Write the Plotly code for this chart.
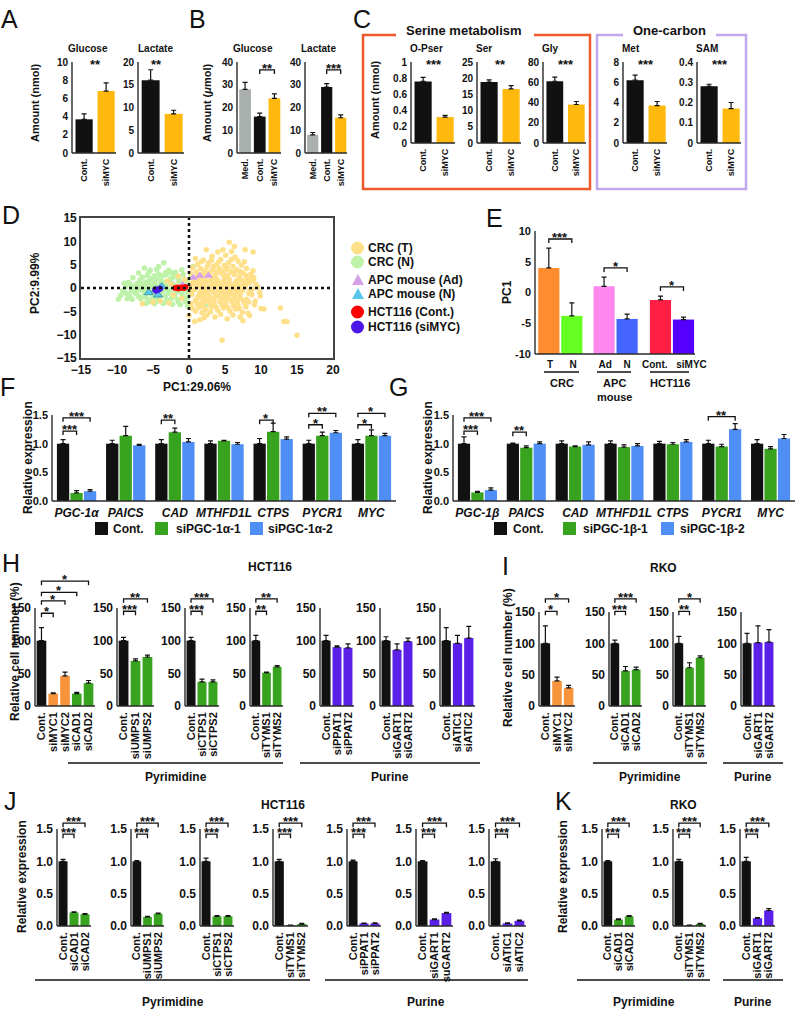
import plotly.graph_objects as go

W, H = 797, 1010
FONT = "Liberation Sans"
BLACK = "#111111"
AXC = "#2a2a2a"
AMBER = "#FFB80C"
GRAY = "#A9AFAD"
ORANGE = "#F7933B"
GREEN = "#37A31F"
PURPLE = "#5A20E8"
BLUE = "#4E8EF5"

# ===================== DATA =====================
# A: amount (nmol), mean and mean+SD
a_cats = ["Cont.", "siMYC"]
a_glucose = [3.7, 6.8]
a_glucose_top = [4.3, 7.7]
a_lactate = [16.0, 8.6]
a_lactate_top = [18.3, 9.4]

# B: amount (umol)
b_cats = ["Med.", "Cont.", "siMYC"]
b_glucose = [28.0, 16.0, 24.0]
b_glucose_top = [31.0, 17.5, 26.0]
b_lactate = [8.0, 29.0, 15.5]
b_lactate_top = [9.0, 30.5, 16.8]

# C
c_cats = ["Cont.", "siMYC"]
c_names = ["O-Pser", "Ser", "Gly", "Met", "SAM"]
c_vals = [[0.76, 0.32], [18.8, 16.7], [61.0, 38.0], [6.2, 3.7], [0.28, 0.17]]
c_tops = [[0.81, 0.34], [19.5, 17.7], [65.0, 41.0], [6.7, 4.1], [0.29, 0.20]]
c_stars = ["***", "**", "***", "***", "***"]
c_ticks = [[0, 0.2, 0.4, 0.6, 0.8, 1.0], [0, 5, 10, 15, 20, 25], [0, 20, 40, 60, 80],
           [0, 2, 4, 6, 8], [0, 0.1, 0.2, 0.3, 0.4]]
c_ticktext = [["0", "0.2", "0.4", "0.6", "0.8", "1"], ["0", "5", "10", "15", "20", "25"],
              ["0", "20", "40", "60", "80"], ["0", "2", "4", "6", "8"],
              ["0", "0.1", "0.2", "0.3", "0.4"]]

# D: PCA scores (PC1, PC2)
crc_t_pts = [
    (5.6, 9.8), (6.3, 8.9), (2.4, 8.2), (4.0, 7.7), (4.7, 8.2), (5.9, 7.8), (7.8, 8.2), (8.9, 7.7),
    (2.0, 6.0), (3.1, 5.9), (4.4, 6.1), (5.5, 5.4), (6.8, 5.8), (1.2, 5.1), (2.7, 5.3), (3.8, 5.0),
    (4.9, 4.8), (6.1, 4.6), (7.3, 4.9), (8.0, 4.2), (0.5, 4.4), (1.6, 4.2), (2.5, 4.5), (3.3, 3.9),
    (4.2, 4.1), (5.0, 3.8), (5.8, 3.5), (6.6, 3.9), (7.5, 3.2), (8.6, 3.0), (9.0, 2.2), (0.2, 3.2),
    (1.0, 3.5), (1.9, 3.0), (2.9, 3.3), (3.7, 2.8), (4.6, 3.0), (5.4, 2.6), (6.3, 2.9), (7.0, 2.4),
    (8.1, 2.0), (0.6, 2.0), (1.4, 1.7), (2.2, 2.2), (3.0, 1.6), (3.9, 1.9), (4.8, 1.5), (5.6, 1.8),
    (6.5, 1.4), (7.4, 1.6), (8.4, 1.1), (9.3, 0.8), (0.3, 0.9), (1.1, 0.6), (2.0, 1.0), (2.8, 0.4),
    (3.6, 0.8), (4.4, 0.5), (5.2, 0.9), (6.0, 0.3), (6.9, 0.7), (7.8, 0.2), (8.8, -0.2), (0.8, -0.3),
    (1.7, -0.6), (2.5, -0.2), (3.3, -0.8), (4.1, -0.4), (4.9, -0.9), (5.7, -0.5), (6.6, -1.0),
    (7.4, -0.6), (8.3, -1.1), (9.8, -0.9), (9.9, -1.7), (0.4, -1.4), (1.3, -1.8), (2.1, -1.3),
    (2.9, -2.0), (3.8, -1.6), (4.6, -2.2), (5.4, -1.7), (6.2, -2.3), (7.1, -1.9), (8.0, -2.4),
    (8.7, -1.4), (0.9, -2.7), (1.8, -3.1), (2.6, -2.6), (3.5, -3.3), (4.3, -2.9), (5.1, -3.5),
    (6.0, -3.0), (6.8, -3.6), (7.7, -3.2), (1.4, -4.2), (2.3, -4.6), (3.1, -4.0), (4.0, -4.8),
    (4.8, -4.3), (5.7, -5.0), (6.5, -4.5), (7.4, -5.2), (8.2, -5.4), (8.4, -5.9), (0.0, -5.9),
    (0.8, -7.2), (2.5, -5.8), (3.6, -6.2), (5.3, -6.6), (7.5, -7.0), (1.5, -6.8), (10.0, -4.4),
    (10.4, -4.5), (12.7, -4.3), (13.2, -7.2), (13.6, -7.2), (15.0, -10.1), (4.6, -11.2), (8.6, 2.1),
    (8.7, -1.4), (1.2, 2.6), (3.4, 2.3), (5.0, 2.2), (2.4, -0.9), (4.4, -1.2), (6.3, -0.2),
    (1.6, 0.3), (3.2, 0.1), (5.5, 0.0), (7.2, -0.2), (2.0, -2.3), (5.8, -2.6), (3.0, -3.7),
    (-1.5, 2.5), (-3.0, 1.5), (-2.2, -1.5), (-4.0, -2.8), (-5.0, -3.0), (-2.8, -3.2), (-1.0, -2.2),
    (-6.5, -3.4), (-2.5, 0.8), (-0.6, 1.8),
    (0.7, 1.3), (1.9, 1.9), (2.6, 2.9), (3.4, 4.6), (4.5, 3.5), (5.3, 4.3), (6.2, 3.3), (7.0, 3.6),
    (7.9, 2.7), (0.4, -0.8), (1.5, -1.1), (2.2, 0.1), (3.0, -0.4), (3.9, 0.2), (4.7, -0.1), (5.5, -1.0),
    (6.3, 0.8), (7.1, -1.2), (8.0, 0.9), (8.9, 1.6), (1.1, -2.4), (1.9, -2.0), (2.7, -1.6), (3.5, -2.4),
    (4.3, -1.9), (5.1, -2.6), (5.9, -1.3), (6.7, -2.8), (7.5, -2.6), (8.3, -3.0), (0.3, -3.4),
    (1.2, -3.5), (2.0, -3.9), (2.9, -3.0), (3.8, -4.1), (4.6, -3.6), (5.4, -4.2), (6.2, -3.8),
    (7.0, -4.4), (7.9, -4.0), (0.9, -5.0), (1.8, -5.3), (3.0, -5.1), (4.4, -5.6), (6.1, -5.8),
    (7.1, -6.2), (2.1, -6.4), (0.5, -4.4), (9.2, -2.8), (9.5, 0.2), (9.1, -3.6), (8.9, 3.7),
    (7.7, 5.6), (6.4, 6.6), (5.1, 7.0), (3.2, 6.8), (1.7, 5.6), (0.9, 6.3), (4.1, 5.5), (5.9, 6.1),
    (2.2, 3.6), (3.9, 3.4), (4.9, 2.7), (6.9, 1.9), (7.8, 1.2), (8.5, -0.5), (0.1, 0.1), (0.9, 0.2),
    (1.3, 1.0), (2.4, 1.4), (3.3, 1.1), (4.1, 1.2), (4.9, 0.3), (5.8, 0.8), (6.7, -0.5), (7.6, 0.6),
    (3.6, -1.1), (4.9, -1.6), (2.3, -2.9), (6.5, -1.5),
]
crc_n_pts = [
    (-3.5, 5.4), (-6.2, 4.3), (-4.5, 4.0), (-2.8, 3.8), (-1.0, 3.9), (0.6, 4.6), (1.5, 2.7),
    (-7.0, 3.2), (-5.6, 3.3), (-4.2, 3.0), (-3.1, 2.9), (-2.0, 2.7), (-0.8, 2.9), (-7.8, 2.2),
    (-6.5, 2.3), (-5.2, 2.0), (-3.9, 2.2), (-2.6, 1.9), (-1.4, 2.0), (-0.3, 1.6), (-8.4, 1.2),
    (-7.2, 1.0), (-6.0, 1.3), (-4.8, 1.1), (-3.5, 1.2), (-2.3, 0.9), (-1.1, 1.0), (-8.8, 0.2),
    (-7.6, 0.4), (-6.4, 0.3), (-5.2, 0.5), (-3.2, 0.4), (-2.0, 0.5), (-0.5, 0.6), (-9.2, -0.6),
    (-8.0, -0.5), (-6.8, -0.4), (-5.8, -0.7), (-3.8, -0.8), (-2.6, -0.5), (-1.2, -0.6), (-0.2, -0.9),
    (-9.5, -1.6), (-8.4, -1.4), (-7.3, -1.3), (-6.2, -1.6), (-5.0, -1.4), (-3.3, -1.7), (-2.0, -1.5),
    (-0.8, -1.8), (-7.9, -2.4), (-6.7, -2.3), (-5.5, -2.5), (-4.4, -2.3), (-3.0, -2.6), (-1.6, -2.4),
    (-0.5, -2.9), (-6.0, -3.3), (-4.8, -3.4), (-3.6, -3.3), (-2.3, -3.5), (-1.2, -3.6), (-0.2, -3.9),
    (1.3, -3.8), (2.4, -3.5), (0.9, 1.2), (0.3, 2.6), (-9.0, 1.0), (-8.6, -2.3), (-4.2, 4.6),
    (-5.0, -0.2), (-4.0, 0.8), (-3.0, -0.2), (-1.6, -0.1), (-6.8, 1.7), (-7.4, -0.1), (-5.4, -1.0),
    (-4.6, 1.8), (-3.6, 2.6), (-2.4, -2.2), (-6.2, -0.9), (-5.8, 2.7), (-1.9, 3.4),
    (-8.2, 0.8), (-7.0, 0.2), (-6.0, -0.1), (-5.5, 1.5), (-4.6, 0.3), (-4.2, -1.2), (-3.4, -0.4),
    (-2.8, 1.4), (-2.2, 2.3), (-1.4, 1.4), (-0.7, -0.3), (-1.8, -0.9), (-2.9, -1.2), (-4.0, -1.8),
    (-5.0, -2.0), (-6.0, -2.0), (-7.0, -1.8), (-7.6, -0.9), (-8.8, -1.1), (-6.6, 0.9), (-5.8, 1.0),
    (-3.9, 1.6), (-3.2, 3.4), (-4.8, 2.6), (-5.4, 3.8), (-2.4, 3.2), (-1.5, -3.0), (-3.3, -3.0),
    (-4.5, -2.9), (-5.6, -3.0), (-0.3, -2.2), (-1.0, -1.2), (-9.8, -2.4), (-8.2, -1.9),
]
apc_ad_pts = [(0.6, 2.2), (1.5, 2.6), (2.7, 2.6), (-0.9, 0.7)]
apc_n_pts = [(-5.6, -1.0), (-4.3, -1.5), (-3.8, 0.3), (-4.6, -0.4)]
hct_cont_pts = [(-1.9, 0.0), (-1.6, 0.1), (-1.3, 0.0), (-1.0, 0.1), (-0.7, 0.0), (-0.5, 0.2), (-1.5, -0.1)]
hct_si_pts = [(-4.7, -0.3), (-4.5, -0.5), (-4.3, -0.4), (-4.1, -0.2), (-4.6, -0.6), (-4.0, -0.1)]
d_legend = ["CRC (T)", "CRC (N)", "APC mouse (Ad)", "APC mouse (N)", "HCT116 (Cont.)", "HCT116 (siMYC)"]

# E: PC1 mean and mean+SD
e_cats = ["T", "N", "Ad", "N", "Cont.", "siMYC"]
e_vals = [4.0, -3.8, 1.0, -4.3, -1.2, -4.4]
e_tops = [7.2, -1.7, 2.5, -3.5, -0.6, -4.0]
e_groups = ["CRC", "APC<br>mouse", "HCT116"]
e_sig = [(0, 1, 8.7, "***"), (2, 3, 4.0, "*"), (4, 5, 0.9, "*")]

# F / G: relative expression
genes_f = ["PGC-1α", "PAICS", "CAD", "MTHFD1L", "CTPS", "PYCR1", "MYC"]
genes_g = ["PGC-1β", "PAICS", "CAD", "MTHFD1L", "CTPS", "PYCR1", "MYC"]
f_names = ["Cont.", "siPGC-1α-1", "siPGC-1α-2"]
g_names = ["Cont.", "siPGC-1β-1", "siPGC-1β-2"]
f_vals = [[1.0] * 7,
          [0.14, 1.14, 1.20, 1.05, 1.21, 1.14, 1.14],
          [0.17, 0.97, 1.03, 0.99, 1.08, 1.19, 1.14]]
f_tops = [[1.07, 1.06, 1.07, 1.05, 1.09, 1.06, 1.07],
          [0.18, 1.30, 1.27, 1.06, 1.36, 1.20, 1.24],
          [0.20, 0.99, 1.09, 1.02, 1.12, 1.23, 1.18]]
g_vals = [[1.0] * 7,
          [0.15, 0.93, 0.95, 0.94, 0.99, 0.95, 0.91],
          [0.19, 1.00, 0.98, 0.96, 1.03, 1.25, 1.09]]
g_tops = [[1.12, 1.01, 1.05, 1.05, 1.04, 1.06, 1.07],
          [0.17, 0.96, 0.96, 0.98, 1.02, 0.99, 0.95],
          [0.23, 1.03, 1.03, 1.00, 1.07, 1.35, 1.16]]
# (gene index, series a, series b, height, label)
f_sig = [(0, 0, 1, 1.22, "***"), (0, 0, 2, 1.45, "***"), (2, 0, 1, 1.41, "**"), (4, 0, 1, 1.41, "*"),
         (5, 0, 1, 1.33, "*"), (5, 0, 2, 1.53, "**"), (6, 0, 1, 1.33, "*"), (6, 0, 2, 1.53, "*")]
g_sig = [(0, 0, 1, 1.22, "***"), (0, 0, 2, 1.45, "***"), (1, 0, 1, 1.20, "**"), (5, 0, 2, 1.47, "**")]

# H: HCT116 relative cell number (%)
h_labels = [["Cont.", "siMYC1", "siMYC2", "siCAD1", "siCAD2"], ["Cont.", "siUMPS1", "siUMPS2"],
            ["Cont.", "siCTPS1", "siCTPS2"], ["Cont.", "siTYMS1", "siTYMS2"],
            ["Cont.", "siPPAT1", "siPPAT2"], ["Cont.", "siGART1", "siGART2"], ["Cont.", "siATIC1", "siATIC2"]]
h_vals = [[100, 19, 46, 19, 35], [100, 69, 75], [100, 37, 37], [100, 51, 60], [100, 90, 89],
          [100, 86, 99], [100, 96, 104]]
h_tops = [[120, 20, 52, 21, 39], [105, 72, 78], [105, 41, 40], [108, 52, 62], [108, 92, 95],
          [106, 95, 104], [120, 108, 122]]
h_sig = [[(0, 1, 142, "*"), (0, 2, 161, "*"), (0, 3, 174, "*"), (0, 4, 191, "*")],
         [(0, 1, 145, "***"), (0, 2, 164, "**")], [(0, 1, 145, "***"), (0, 2, 164, "***")],
         [(0, 1, 145, "**"), (0, 2, 164, "**")], [], [], []]

# I: RKO relative cell number (%)
i_labels = [["Cont.", "siMYC1", "siMYC2"], ["Cont.", "siCAD1", "siCAD2"], ["Cont.", "siTYMS1", "siTYMS2"],
            ["Cont.", "siGART1", "siGART2"]]
i_vals = [[100, 40, 29], [100, 56, 58], [100, 61, 77], [100, 101, 102]]
i_tops = [[128, 46, 33], [105, 63, 62], [111, 69, 80], [116, 128, 122]]
i_sig = [[(0, 1, 151, "*"), (0, 2, 171, "*")], [(0, 1, 151, "***"), (0, 2, 171, "***")],
         [(0, 1, 151, "**"), (0, 2, 171, "*")], []]

# J: HCT116 relative expression
j_labels = [["Cont.", "siCAD1", "siCAD2"], ["Cont.", "siUMPS1", "siUMPS2"], ["Cont.", "siCTPS1", "siCTPS2"],
            ["Cont.", "siTYMS1", "siTYMS2"], ["Cont.", "siPPAT1", "siPPAT2"], ["Cont.", "siGART1", "suGART2"],
            ["Cont.", "siATIC1", "siATIC2"]]
j_vals = [[1.0, 0.21, 0.18], [1.0, 0.14, 0.19], [1.0, 0.15, 0.15], [1.0, 0.01, 0.03], [1.0, 0.04, 0.04],
          [1.0, 0.10, 0.20], [1.0, 0.04, 0.08]]
j_tops = [[1.03, 0.22, 0.19], [1.01, 0.15, 0.20], [1.05, 0.16, 0.16], [1.03, 0.015, 0.04],
          [1.02, 0.045, 0.05], [1.01, 0.11, 0.21], [1.04, 0.05, 0.09]]
j_sig = [(0, 1, 1.42, "***"), (0, 2, 1.59, "***")]

# K: RKO relative expression
k_labels = [["Cont.", "siCAD1", "siCAD2"], ["Cont.", "siTYMS1", "siTYMS2"], ["Cont.", "siGART1", "siGART2"]]
k_vals = [[1.0, 0.10, 0.15], [1.0, 0.01, 0.03], [1.0, 0.12, 0.24]]
k_tops = [[1.01, 0.11, 0.16], [1.03, 0.015, 0.04], [1.06, 0.13, 0.27]]
k_sig = [(0, 1, 1.42, "***"), (0, 2, 1.59, "***")]

# ===================== HELPERS =====================
fig = go.Figure()
layout_axes = {}
shapes = []
anns = []
n_axes = [0]


def P(x):
    return x / W


def Q(y):
    return 1 - y / H


def tf(size, weight="bold", italic=False, color=BLACK):
    d = dict(family=FONT, size=size, color=color, weight=weight)
    if italic:
        d["style"] = "italic"
    return d


def label(x, y, s, size, weight="bold", angle=0, xanchor="center", yanchor="middle", italic=False):
    anns.append(dict(xref="paper", yref="paper", x=P(x), y=Q(y), text=s, showarrow=False,
                     textangle=angle, xanchor=xanchor, yanchor=yanchor, font=tf(size, weight, italic),
                     borderpad=0))


def pline(x0, y0, x1, y1, color=BLACK, width=1.5, dash=None):
    shapes.append(dict(type="line", xref="paper", yref="paper", x0=P(x0), y0=Q(y0), x1=P(x1), y1=Q(y1),
                       line=dict(color=color, width=width, dash=dash)))


def panel(xl, xr, y0, yt, ytop, top_px, xa, xb, yticks, yticktext, xtickvals, xticktext,
          ymin=0.0, yfont=10, xfont=10, tickangle=-90):
    n_axes[0] += 1
    s = "" if n_axes[0] == 1 else str(n_axes[0])
    pxper = (xr - xl) / (xb - xa)
    vper = (ytop - ymin) / (y0 - yt)
    m = 3
    dl = max(0.0, xl - m)
    dr = min(float(W), xr + m)
    db = min(float(H), y0 + m)
    layout_axes["xaxis" + s] = dict(
        domain=[P(dl), P(dr)], range=[xa - (xl - dl) / pxper, xb + (dr - xr) / pxper], anchor="y" + s,
        showgrid=False, zeroline=False, showline=False, ticks="", tickvals=xtickvals, ticktext=xticktext,
        tickangle=tickangle, tickfont=tf(xfont), fixedrange=True, automargin=False)
    layout_axes["yaxis" + s] = dict(
        domain=[Q(db), Q(top_px)], range=[ymin - (db - y0) * vper, ymin + (y0 - top_px) * vper],
        anchor="x" + s, showgrid=False, zeroline=False, showline=False, ticks="", tickvals=yticks,
        ticktext=yticktext, tickfont=tf(yfont), fixedrange=True, automargin=False)
    p = dict(x="x" + s, y="y" + s, vper=vper, ymin=ymin)
    shapes.append(dict(type="line", xref=p["x"], yref=p["y"], x0=xa, x1=xa, y0=ymin, y1=ytop,
                       line=dict(color=AXC, width=1.4)))
    shapes.append(dict(type="line", xref=p["x"], yref=p["y"], x0=xa, x1=xb, y0=ymin, y1=ymin,
                       line=dict(color=AXC, width=1.4)))
    return p


def add_bars(p, xs, vals, tops, colors, width):
    base = p["ymin"]
    fig.add_trace(go.Bar(
        x=xs, y=[v - base for v in vals], base=base, width=width,
        marker=dict(color=colors, line=dict(width=0)), xaxis=p["x"], yaxis=p["y"], showlegend=False,
        error_y=dict(type="data", symmetric=False, array=[t - v for t, v in zip(tops, vals)],
                     arrayminus=[0] * len(vals), color=BLACK, thickness=1.2, width=2.5),
        hoverinfo="skip"))


def add_sig(p, x1, x2, h, text, size=13, drop_px=4):
    d = drop_px * p["vper"]
    shapes.append(dict(type="path", xref=p["x"], yref=p["y"],
                       path=f"M {x1},{h - d} L {x1},{h} L {x2},{h} L {x2},{h - d}",
                       line=dict(color=BLACK, width=1.3)))
    anns.append(dict(xref=p["x"], yref=p["y"], x=(x1 + x2) / 2, y=h, text=text, showarrow=False,
                     yanchor="bottom", yshift=-7, font=tf(size), borderpad=0))


def color_ko(lbl):
    if lbl.startswith("Cont"):
        return BLACK
    if "MYC" in lbl:
        return ORANGE
    if any(k in lbl for k in ("PPAT", "GART", "ATIC")):
        return PURPLE
    return GREEN


def color_ab(lbl):
    return {"Med.": GRAY, "Cont.": BLACK, "siMYC": AMBER}[lbl]


def ppath(pts):
    return "M " + " L ".join(f"{P(x)},{Q(y)}" for x, y in pts)


# ===================== PANELS A-C =====================
for (xl, xr, vals, tops, ytop, step, title, tx, sx) in [
        (72, 116, a_glucose, a_glucose_top, 10, 2, "Glucose", 88, 0.5),
        (138, 184, a_lactate, a_lactate_top, 20, 5, "Lactate", 155, 0.25)]:
    tv = list(range(0, ytop + 1, step))
    p = panel(xl, xr, 153, 62, ytop, 58, -0.55, 1.45, tv, [str(t) for t in tv], [0, 1], a_cats,
              xfont=9, yfont=10)
    add_bars(p, [0, 1], vals, tops, [color_ab(c) for c in a_cats], 0.78)
    anns.append(dict(xref=p["x"], yref="paper", x=sx, y=Q(64), text="**", showarrow=False,
                     font=tf(13), yanchor="middle"))
    label(tx, 48, title, 10)
label(35, 103, "Amount (nmol)", 11, angle=-90)

for (xl, xr, vals, tops, title, tx, star) in [
        (237, 281, b_glucose, b_glucose_top, "Glucose", 253, "**"),
        (305, 347, b_lactate, b_lactate_top, "Lactate", 318, "***")]:
    tv = [0, 10, 20, 30, 40]
    p = panel(xl, xr, 153, 62, 40, 58, -0.55, 2.45, tv, [str(t) for t in tv], [0, 1, 2], b_cats,
              xfont=9, yfont=10)
    add_bars(p, [0, 1, 2], vals, tops, [color_ab(c) for c in b_cats], 0.8)
    add_sig(p, 1, 2, 36.5, star)
    label(tx, 48, title, 10)
label(207, 103, "Amount (<i>μ</i>mol)", 11, angle=-90)

c_x = [(411, 455), (477, 521), (543, 586), (623, 667), (697, 741)]
for k in range(5):
    xl, xr = c_x[k]
    p = panel(xl, xr, 143, 62, c_ticks[k][-1], 58, -0.55, 1.45, c_ticks[k], c_ticktext[k], [0, 1], c_cats,
              xfont=9, yfont=10)
    add_bars(p, [0, 1], c_vals[k], c_tops[k], [color_ab(c) for c in c_cats], 0.78)
    anns.append(dict(xref=p["x"], yref="paper", x=0.5, y=Q(64), text=c_stars[k], showarrow=False,
                     font=tf(13), yanchor="middle"))
    label(xl - 2, 48, c_names[k], 10, xanchor="left")
label(375, 100, "Amount (nmol)", 11, angle=-90)

shapes.append(dict(type="path", xref="paper", yref="paper",
                   path=ppath([(396, 35), (363, 35), (363, 189), (590, 189), (590, 35), (534, 35)]),
                   line=dict(color="#EE5A2A", width=2.5)))
shapes.append(dict(type="path", xref="paper", yref="paper",
                   path=ppath([(623, 35), (597, 35), (597, 189), (746, 189), (746, 35), (716, 35)]),
                   line=dict(color="#C4A6EE", width=2.5)))
label(464, 30, "Serine metabolism", 13)
label(669, 30, "One-carbon", 13)

# ===================== PANEL D =====================
n_axes[0] += 1
sD = str(n_axes[0])
layout_axes["xaxis" + sD] = dict(domain=[P(81), P(333)], range=[-15, 20], anchor="y" + sD, showline=True,
                                 mirror=True, linecolor="#444444", linewidth=1.6, showgrid=False,
                                 zeroline=False, ticks="", tickvals=list(range(-15, 21, 5)),
                                 tickfont=tf(12), fixedrange=True, automargin=False)
layout_axes["yaxis" + sD] = dict(domain=[Q(358), Q(218)], range=[-15, 15], anchor="x" + sD, showline=True,
                                 mirror=True, linecolor="#444444", linewidth=1.6, showgrid=False,
                                 zeroline=False, ticks="", tickvals=list(range(-15, 16, 5)),
                                 tickfont=tf(12), fixedrange=True, automargin=False)
xD, yD = "x" + sD, "y" + sD
D_COLORS = ["#FFE08A", "#BDF2A8", "#D7A1EA", "#5AC8EB", "#FF0000", "#4B16E6"]
for pts, col, sym, size, lc in [(crc_n_pts, D_COLORS[1], "circle", 5.5, None),
                                (crc_t_pts, D_COLORS[0], "circle", 5.5, None),
                                (apc_ad_pts, D_COLORS[2], "triangle-up", 8, None),
                                (apc_n_pts, D_COLORS[3], "triangle-up", 8, "#2F8FA8"),
                                (hct_cont_pts, D_COLORS[4], "circle", 6, None),
                                (hct_si_pts, D_COLORS[5], "circle", 6, None)]:
    mk = dict(color=col, size=size, symbol=sym)
    mk["line"] = dict(color=lc, width=0.8) if lc else dict(width=0)
    fig.add_trace(go.Scatter(x=[a for a, b in pts], y=[b for a, b in pts], mode="markers", marker=mk,
                             xaxis=xD, yaxis=yD, showlegend=False, hoverinfo="skip"))
shapes.append(dict(type="line", xref=xD, yref=yD, x0=0, x1=0, y0=-15, y1=15,
                   line=dict(color=BLACK, width=2.5, dash="dot")))
shapes.append(dict(type="line", xref=xD, yref=yD, x0=-15, x1=20, y0=0, y1=0,
                   line=dict(color=BLACK, width=2.5, dash="dot")))
label(197, 387, "PC1:29.06%", 12)
label(35, 283, "PC2:9.99%", 12, angle=-90)
leg_y = [248, 262, 280, 294, 312, 327]
for k, name in enumerate(d_legend):
    yy = leg_y[k]
    if k in (2, 3):
        shapes.append(dict(type="path", xref="paper", yref="paper",
                           path=ppath([(352, yy + 5), (364, yy + 5), (358, yy - 6)]) + " Z",
                           fillcolor=D_COLORS[k], line=dict(width=0)))
    else:
        shapes.append(dict(type="circle", xref="paper", yref="paper", x0=P(351), x1=P(364),
                           y0=Q(yy + 6.5), y1=Q(yy - 6.5), fillcolor=D_COLORS[k], line=dict(width=0)))
    label(367, yy, name, 12, xanchor="left")

# ===================== PANEL E =====================
e_x = [0, 1, 2.4, 3.4, 4.85, 5.85]
e_label_x = [0.05, 1.05, 2.45, 3.4, 4.6, 6.2]
E_COLORS = ["#FF8C2E", "#66FF22", "#FF88EE", "#4466FF", "#FF1F45", "#5500FF"]
tv = [-10, -5, 0, 5, 10]
pE = panel(535, 695, 354, 231, 10, 226, -0.6, 6.35, tv, [str(t) for t in tv], e_label_x, e_cats,
           ymin=-10, yfont=11, xfont=10, tickangle=0)
add_bars(pE, e_x, e_vals, e_tops, E_COLORS, 0.92)
for a, b, h, s in e_sig:
    add_sig(pE, e_x[a], e_x[b], h, s)
for (x0, x1), g in zip([(544, 579), (597, 631), (650, 689)], e_groups):
    pline(x0, 372, x1, 372, width=1.5)
    label((x0 + x1) / 2, 376, g, 11, yanchor="top")
label(507, 292, "PC1", 12, angle=-90)

# ===================== PANELS F, G =====================
offs = [-0.275, 0.0, 0.275]
FG_COLORS = [BLACK, GREEN, BLUE]
for (xl, xr, genes, vals, tops, sig, names, lx, leg) in [
        (52, 396, genes_f, f_vals, f_tops, f_sig, f_names, 28, [(95, 112), (155, 175), (250, 267)]),
        (453, 795, genes_g, g_vals, g_tops, g_sig, g_names, 428, [(494, 512), (563, 582), (661, 679)])]:
    tv = [0, 0.5, 1.0, 1.5]
    p = panel(xl, xr, 501, 415, 1.5, 404, -0.5, 6.5, tv, ["0.0", "0.5", "1.0", "1.5"], list(range(7)),
              [f"<i>{g}</i>" for g in genes], xfont=12, yfont=11, tickangle=0)
    for sidx in range(3):
        add_bars(p, [k + offs[sidx] for k in range(7)], vals[sidx], tops[sidx], FG_COLORS[sidx], 0.25)
    for gi, a, b, h, s in sig:
        add_sig(p, gi + offs[a], gi + offs[b], h, s)
    label(lx, 458, "Relative expression", 12, angle=-90)
    for sidx in range(3):
        sx, tx = leg[sidx]
        shapes.append(dict(type="rect", xref="paper", yref="paper", x0=P(sx), x1=P(sx + 13),
                           y0=Q(535), y1=Q(522), fillcolor=FG_COLORS[sidx], line=dict(width=0)))
        label(tx, 528.5, names[sidx], 12, xanchor="left")


# ===================== PANELS H, I, J, K =====================
def ko_row(xs_px, labels, vals, tops, sigs, y0, yt, ytop, top_px, tv, tt):
    for k, (xl, xr) in enumerate(xs_px):
        n = len(labels[k])
        xs = list(range(n))
        p = panel(xl, xr, y0, yt, ytop, top_px, -0.55, n - 0.45, tv, tt, xs, labels[k],
                  xfont=11, yfont=12)
        add_bars(p, xs, vals[k], tops[k], [color_ko(c) for c in labels[k]], 0.82)
        for a, b, h, s in sigs[k]:
            add_sig(p, a, b, h, s)


h_x = [(35, 95), (117, 154), (185, 219), (250, 283), (320, 354), (380, 414), (440, 475)]
ko_row(h_x, h_labels, h_vals, h_tops, h_sig, 706, 608, 150, 575, [0, 50, 100, 150],
       ["0", "50", "100", "150"])
i_x = [(539, 575), (609, 642), (673, 706), (741, 775)]
ko_row(i_x, i_labels, i_vals, i_tops, i_sig, 706, 612, 150, 575, [0, 50, 100, 150],
       ["0", "50", "100", "150"])
j_x = [(57, 91), (131, 164), (200, 234), (273, 308), (347, 381), (416, 453), (489, 526)]
ko_row(j_x, j_labels, j_vals, j_tops, [j_sig] * 7, 926, 829, 1.5, 815, [0, 0.5, 1.0, 1.5],
       ["0.0", "0.5", "1.0", "1.5"])
k_x = [(602, 635), (673, 706), (740, 775)]
ko_row(k_x, k_labels, k_vals, k_tops, [k_sig] * 3, 926, 829, 1.5, 815, [0, 0.5, 1.0, 1.5],
       ["0.0", "0.5", "1.0", "1.5"])

label(270, 567, "HCT116", 12)
label(663, 568, "RKO", 12)
label(283, 805, "HCT116", 12)
label(683, 805, "RKO", 12)
label(15, 652, "Relative cell number (%)", 12, angle=-90)
label(508, 658, "Relative cell number (%)", 12, angle=-90)
label(22, 877, "Relative expression", 12, angle=-90)
label(563, 877, "Relative expression", 12, angle=-90)

for (x0, x1, txt, yl, yt_) in [(68, 283, "Pyrimidine", 763, 777), (300, 480, "Purine", 763, 777),
                               (593, 707, "Pyrimidine", 763, 777), (723, 783, "Purine", 763, 777),
                               (35, 310, "Pyrimidine", 980, 1002), (325, 528, "Purine", 980, 1002),
                               (577, 710, "Pyrimidine", 980, 1002), (723, 783, "Purine", 980, 1002)]:
    pline(x0, yl, x1, yl, width=1.5)
    label((x0 + x1) / 2, yt_, txt, 12)

for s, x, y in [("A", 9, 19), ("B", 197, 19), ("C", 362, 19), ("D", 11, 215), ("E", 495, 218),
                ("F", 8, 387), ("G", 398, 387), ("H", 11, 563), ("I", 505, 566), ("J", 10, 801),
                ("K", 563, 801)]:
    label(x, y, s, 25, weight="normal")

fig.update_layout(**layout_axes)
fig.update_layout(width=W, height=H, autosize=False, margin=dict(l=0, r=0, t=0, b=0),
                  paper_bgcolor="white", plot_bgcolor="white", showlegend=False, barmode="overlay",
                  hovermode=False, shapes=shapes, annotations=anns, font=dict(family=FONT, color=BLACK))
fig.write_html("out.html", config={"displayModeBar": False},
               post_script="document.body.style.margin='0';document.body.style.overflow='hidden';")
